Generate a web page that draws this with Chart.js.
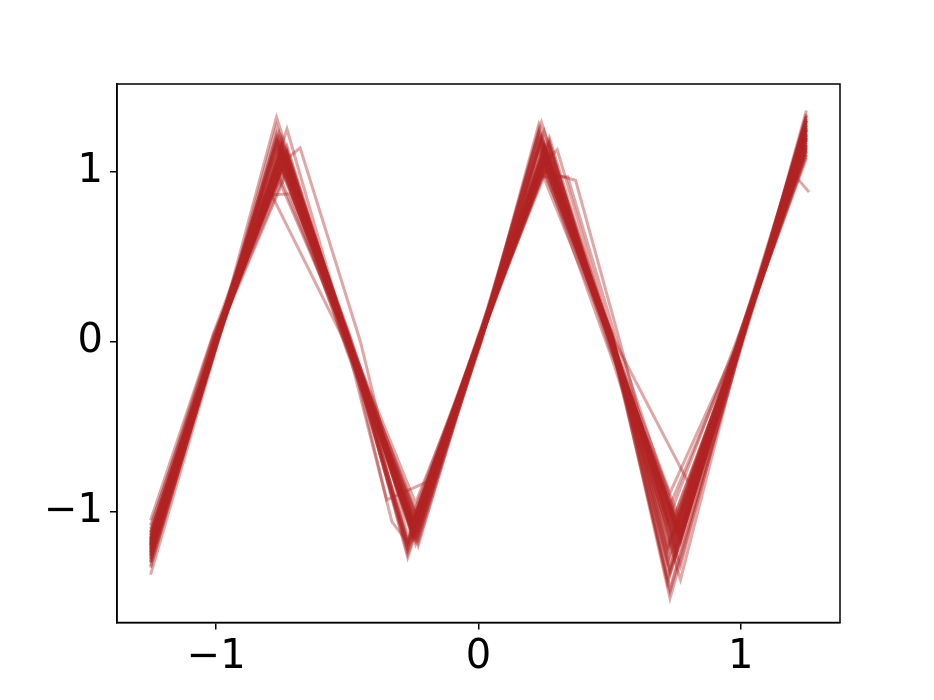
<!DOCTYPE html>
<html>
<head>
<meta charset="utf-8">
<script src="https://cdn.jsdelivr.net/npm/chart.js@4/dist/chart.umd.min.js"></script>
<style>
  body { margin: 0; background: #fff; }
  canvas { display: block; }
</style>
</head>
<body>
<canvas id="chart" width="934" height="700"></canvas>
<script>
// axis limits and ticks
var xMin = -1.378, xMax = 1.378;
var yMin = -1.652, yMax = 1.516;
var xTicks = [-1, 0, 1];
var yTicks = [-1, 0, 1];

// sample positions shared by most runs (start, zero, peak, zero, trough, ... end)
var gridA = [-1.25, -1.00, -0.75, -0.50, -0.25, 0.00, 0.25, 0.50, 0.75, 1.00, 1.25];
var gridB = [-1.25, -1.00, -0.77, -0.50, -0.27, 0.00, 0.23, 0.50, 0.73, 1.00, 1.25];
var gridC = [-1.25, -1.00, -0.73, -0.50, -0.23, 0.00, 0.27, 0.50, 0.77, 1.00, 1.25];
var gridD = [-1.25, -1.01, -0.76, -0.49, -0.24, 0.01, 0.24, 0.51, 0.72, 0.99, 1.25];

var runX = [
    gridA, gridB, gridC, gridB, gridD, gridA, gridC, gridA, gridD, gridB, gridA, gridC,
    [-1.25, -1.00, -0.82, -0.72, -0.50, -0.25, 0.00, 0.25, 0.50, 0.75, 1.00, 1.25],
    [-1.25, -1.00, -0.75, -0.68, -0.45, -0.27, 0.00, 0.25, 0.50, 0.75, 1.00, 1.25],
    [-1.25, -1.00, -0.80, -0.50, -0.25, 0.00, 0.25, 0.50, 0.75, 1.00, 1.25],
    [-1.25, -1.00, -0.75, -0.50, -0.35, -0.19, 0.00, 0.25, 0.50, 0.75, 1.00, 1.25],
    [-1.25, -1.00, -0.75, -0.50, -0.33, -0.27, 0.00, 0.25, 0.50, 0.75, 1.00, 1.25],
    [-1.25, -1.00, -0.75, -0.50, -0.25, 0.00, 0.25, 0.30, 0.51, 0.75, 1.00, 1.25],
    [-1.25, -1.00, -0.75, -0.50, -0.25, 0.00, 0.22, 0.34, 0.52, 0.75, 1.00, 1.25],
    [-1.25, -1.00, -0.75, -0.50, -0.25, 0.00, 0.25, 0.37, 0.53, 0.75, 1.00, 1.25],
    [-1.25, -1.00, -0.75, -0.50, -0.25, 0.00, 0.25, 0.50, 0.73, 1.00, 1.25],
    [-1.25, -1.00, -0.75, -0.50, -0.25, 0.00, 0.25, 0.50, 0.80, 1.00, 1.25],
    [-1.25, -1.00, -0.75, -0.50, -0.25, 0.00, 0.25, 0.50, 0.75, 1.00, 1.21, 1.26],
    gridD, gridB, gridC, gridA, gridB, gridD, gridC, gridA, gridB, gridD, gridC,
    gridA, gridB, gridC, gridD, gridA, gridB, gridC, gridD, gridA, gridC, gridB, gridD, gridA, gridC
];
var runY = [
    [-1.20,  0.02, 1.10, -0.03, -1.10,  0.01, 1.10,  0.02, -1.10, -0.01, 1.20],
    [-1.28, -0.02, 1.18,  0.04, -1.18, -0.02, 1.15,  0.05, -1.20,  0.02, 1.28],
    [-1.15,  0.03, 1.02, -0.05, -1.05,  0.02, 1.05, -0.04, -1.05,  0.00, 1.15],
    [-1.32,  0.00, 1.32,  0.03, -1.25, -0.03, 1.28,  0.06, -1.51, -0.03, 1.36],
    [-1.10,  0.04, 0.95, -0.02, -1.00,  0.03, 1.29,  0.03, -1.38,  0.01, 1.30],
    [-1.22, -0.01, 1.12,  0.05, -1.15,  0.00, 1.02, -0.06, -1.23,  0.03, 1.22],
    [-1.30, -0.03, 1.25,  0.02, -1.20, -0.01, 1.20,  0.04, -1.15, -0.02, 1.33],
    [-1.18,  0.01, 1.05, -0.06, -1.12,  0.04, 1.12,  0.07, -1.28,  0.02, 1.10],
    [-1.05,  0.05, 1.08,  0.00, -0.95,  0.02, 1.00, -0.03, -1.00, -0.01, 1.08],
    [-1.37, -0.04, 1.15,  0.06, -1.27, -0.02, 1.22,  0.02, -1.45, -0.04, 1.25],
    [-1.25,  0.00, 1.20, -0.02, -1.08,  0.01, 1.08,  0.05, -1.12,  0.01, 1.18],
    [-1.12,  0.02, 1.00,  0.04, -1.18, -0.03, 1.18, -0.02, -1.32,  0.02, 1.12],
    [-1.14,  0.01, 0.86, 0.87, -0.04, -1.05,  0.01, 1.05,  0.03, -1.08,  0.00, 1.20],
    [-1.20, -0.01, 1.05, 1.14,  0.00, -1.15,  0.02, 1.15,  0.04, -1.18,  0.01, 1.24],
    [-1.08,  0.03, 0.90, -0.03, -1.10, -0.02, 1.10,  0.02, -1.20,  0.02, 1.15],
    [-1.22,  0.00, 1.12,  0.03, -0.93, -0.82, -0.02, 1.05,  0.01, -1.05,  0.02, 1.22],
    [-1.18,  0.02, 1.08, -0.02, -1.06, -1.18,  0.01, 1.12, -0.01, -1.15,  0.00, 1.30],
    [-1.24, -0.02, 1.14,  0.02, -1.12,  0.00, 1.05, 1.13,  0.03, -1.10, -0.01, 1.26],
    [-1.16,  0.01, 1.02,  0.01, -1.02,  0.02, 0.97, 0.97,  0.04, -1.02,  0.02, 1.10],
    [-1.26, -0.03, 1.16,  0.04, -1.16, -0.01, 1.00, 0.95,  0.05, -1.22,  0.01, 1.28],
    [-1.12,  0.02, 1.04, -0.01, -1.06,  0.03, 1.06,  0.04, -0.89,  0.03, 1.16],
    [-1.19,  0.00, 1.09,  0.02, -1.09,  0.00, 1.14,  0.06, -0.83,  0.05, 1.21],
    [-1.18,  0.01, 1.10,  0.00, -1.10,  0.01, 1.12,  0.03, -1.12, -0.02, 0.97, 0.88],
    [-1.27, -0.02, 1.20,  0.03, -1.14,  0.01, 1.16,  0.04, -1.42, -0.03, 1.32],
    [-1.21,  0.01, 1.13, -0.01, -1.22,  0.02, 1.19,  0.03, -1.35, -0.02, 1.27],
    [-1.14,  0.03, 1.06,  0.02, -1.04, -0.02, 1.09,  0.01, -1.18,  0.03, 1.14],
    [-1.23, -0.01, 1.16,  0.05, -1.13,  0.00, 1.24,  0.04, -1.26,  0.00, 1.24],
    [-1.29, -0.03, 1.22,  0.01, -1.21,  0.01, 1.13,  0.02, -1.09,  0.01, 1.31],
    [-1.16,  0.02, 0.98, -0.03, -1.09,  0.02, 1.03,  0.05, -1.30,  0.02, 1.19],
    [-1.24,  0.00, 1.11,  0.04, -1.16, -0.01, 1.17,  0.00, -1.40, -0.01, 1.29],
    [-1.19,  0.02, 1.02,  0.02, -1.07,  0.01, 1.01,  0.03, -1.05,  0.01, 1.13],
    [-1.33, -0.02, 1.27,  0.04, -1.19, -0.02, 1.25,  0.05, -1.47, -0.02, 1.34],
    [-1.26,  0.01, 1.14, -0.02, -1.17,  0.00, 1.21,  0.02, -1.22,  0.00, 1.26],
    [-1.17,  0.03, 1.09,  0.03, -1.12,  0.02, 1.07,  0.04, -1.14,  0.02, 1.17],
    [-1.21,  0.01, 1.14, -0.01, -1.14,  0.02, 1.14,  0.02, -1.16,  0.00, 1.22],
    [-1.26, -0.01, 1.21,  0.02, -1.23,  0.00, 1.20,  0.04, -1.33, -0.01, 1.30],
    [-1.16,  0.02, 1.08,  0.00, -1.09,  0.01, 1.11,  0.02, -1.12,  0.01, 1.16],
    [-1.23,  0.00, 1.17,  0.03, -1.15,  0.00, 1.18,  0.03, -1.20,  0.01, 1.23],
    [-1.20,  0.03, 1.09,  0.01, -1.11, -0.01, 1.09,  0.03, -1.14,  0.02, 1.19],
    [-1.25, -0.02, 1.19,  0.03, -1.17,  0.01, 1.23,  0.04, -1.27,  0.00, 1.27],
    [-1.19,  0.01, 1.12,  0.04, -1.10,  0.00, 1.13,  0.01, -1.10,  0.00, 1.21],
    [-1.28, -0.01, 1.23,  0.01, -1.19,  0.01, 1.19,  0.02, -1.24, -0.02, 1.31],
    [-1.17,  0.02, 1.07,  0.00, -1.06,  0.02, 1.06,  0.01, -1.08,  0.02, 1.14],
    [-1.22,  0.00, 1.15,  0.02, -1.14, -0.01, 1.15,  0.03, -1.17,  0.01, 1.25],
    [-1.30, -0.02, 1.17,  0.05, -1.20, -0.01, 1.17,  0.03, -1.37, -0.02, 1.33],
    [-1.13,  0.03, 1.04,  0.01, -1.03,  0.03, 1.08,  0.02, -1.06,  0.03, 1.12],
    [-1.24,  0.00, 1.13,  0.02, -1.13,  0.00, 1.16,  0.03, -1.19,  0.00, 1.25],
    [-1.20,  0.01, 1.11,  0.01, -1.11,  0.01, 1.10,  0.02, -1.13,  0.01, 1.20]
];

var lineColor = 'rgba(178, 34, 34, 0.4)';

var datasets = runX.map(function (xs, i) {
    return {
        data: xs.map(function (x, j) { return { x: x, y: runY[i][j] }; }),
        showLine: true,
        borderColor: lineColor,
        borderWidth: 3,
        pointRadius: 0,
        tension: 0,
        fill: false
    };
});

function fmt(v) {
    return v < 0 ? '\u2212' + Math.abs(v) : String(v);
}

// black frame round the plot area, like matplotlib's spines
var frame = {
    id: 'frame',
    afterDraw: function (chart) {
        var a = chart.chartArea;
        var ctx = chart.ctx;
        ctx.save();
        ctx.strokeStyle = '#000';
        ctx.lineWidth = 1.5;
        ctx.strokeRect(a.left, a.top, a.right - a.left, a.bottom - a.top);
        ctx.restore();
    }
};

var tickFont = { family: 'DejaVu Sans', size: 40 };

new Chart(document.getElementById('chart').getContext('2d'), {
    type: 'scatter',
    data: { datasets: datasets },
    options: {
        responsive: false,
        animation: false,
        layout: { padding: { top: 84, right: 94, left: 0, bottom: 0 } },
        plugins: { legend: { display: false }, tooltip: { enabled: false } },
        scales: {
            x: {
                type: 'linear',
                min: xMin,
                max: xMax,
                afterBuildTicks: function (s) { s.ticks = xTicks.map(function (v) { return { value: v }; }); },
                afterFit: function (s) { s.height = 77.5; },
                ticks: { color: '#000', font: tickFont, padding: 4, maxRotation: 0, callback: fmt },
                grid: { drawOnChartArea: false, drawTicks: true, tickLength: 7, color: '#000', lineWidth: 1.5 },
                border: { display: true, color: '#000', width: 1.5 }
            },
            y: {
                type: 'linear',
                min: yMin,
                max: yMax,
                afterBuildTicks: function (s) { s.ticks = yTicks.map(function (v) { return { value: v }; }); },
                afterFit: function (s) { s.width = 117; },
                ticks: { color: '#000', font: tickFont, padding: 7, callback: fmt },
                grid: { drawOnChartArea: false, drawTicks: true, tickLength: 7, color: '#000', lineWidth: 1.5 },
                border: { display: true, color: '#000', width: 1.5 }
            }
        }
    },
    plugins: [frame]
});
</script>
</body>
</html>
